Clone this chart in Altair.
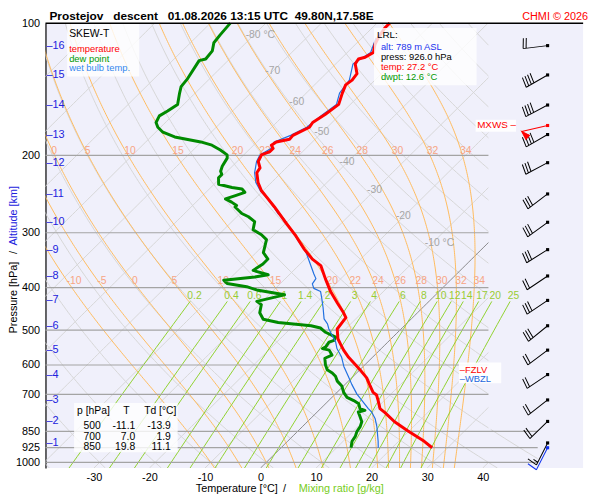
import numpy as np
import pandas as pd
import altair as alt

alt.data_transformers.disable_max_rows()
FONT = "Liberation Sans"

# ---------------- sounding values (hPa, degC) ----------------
TEMP = [(926, 27.2), (895.1, 24.6), (847.9, 19.8), (807.9, 15.7), (770.0, 12.3), (754.5, 10.7),
        (723.2, 8.9), (702.4, 7.6), (692.8, 6.5), (669.9, 4.8), (641.9, 2.7), (615.0, 0.0),
        (599.5, -1.7), (576.3, -4.3), (555.1, -6.5), (538.4, -8.1), (523.0, -9.6), (496.9, -11.5),
        (480.4, -11.8), (468.2, -12.0), (456.4, -13.3), (433.6, -16.2), (408.4, -19.5), (381.6, -22.8),
        (356.3, -26.0), (344.4, -28.7), (327.3, -31.9), (305.5, -35.8), (285.5, -39.9), (262.1, -45.0),
        (248.9, -48.2), (240.7, -50.3), (230.6, -52.4), (219.1, -54.4), (213.6, -54.7), (206.5, -56.2),
        (199.5, -56.8), (196.2, -55.9), (192.8, -55.9), (189.6, -56.8), (186.4, -56.5), (183.8, -54.6),
        (180.1, -54.7), (172.6, -53.2), (168.3, -53.5), (161.2, -52.7), (157.1, -52.4), (153.1, -52.1),
        (144.3, -53.5), (138.2, -54.4), (134.8, -54.1), (130.3, -54.4), (123.8, -56.5), (120.7, -56.8),
        (119.6, -55.9), (116.6, -55.3), (111.7, -56.5), (108.0, -57.1), (102.6, -57.7), (100.0, -57.7)]

DEWP = [(926, 12.6), (895.1, 11.6), (872.4, 11.3), (850.3, 10.7), (828.8, 10.4), (807.9, 9.8),
        (787.4, 8.6), (767.7, 7.4), (761.3, 8.3), (754.5, 7.1), (735.6, 6.0), (723.2, 4.5),
        (710.9, 2.7), (692.8, 1.2), (669.9, -0.3), (653.0, -2.0), (636.7, -3.2), (625.5, -4.4),
        (615.0, -5.9), (599.5, -7.1), (579.3, -8.4), (569.6, -7.7), (555.1, -9.1), (550.4, -10.6),
        (545.9, -10.3), (532.1, -10.6), (527.4, -10.0), (518.6, -10.3), (505.5, -13.0), (494.3, -14.7),
        (488.5, -16.8), (480.4, -23.3), (472.1, -26.6), (456.4, -28.4), (437.2, -29.6), (429.9, -31.0),
        (415.4, -27.2), (404.9, -33.1), (398.1, -35.5), (391.5, -39.6), (384.7, -40.8), (378.3, -35.8),
        (373.9, -33.8), (365.5, -37.3), (353.4, -36.7), (344.4, -36.7), (332.9, -38.7), (321.7, -39.6),
        (311.0, -40.5), (303.1, -42.3), (295.4, -44.7), (283.0, -45.9), (275.9, -47.9), (271.2, -49.7),
        (262.1, -52.1), (260.0, -52.1), (255.5, -53.6), (251.2, -55.3), (246.9, -54.1), (242.7, -53.0),
        (238.6, -54.1), (236.6, -56.2), (232.6, -59.2), (224.8, -60.4), (221.0, -60.4), (217.3, -61.2),
        (211.8, -61.8), (202.9, -62.4), (199.5, -63.0), (194.5, -65.1), (189.6, -67.5), (186.4, -70.1),
        (181.6, -75.7), (177.1, -78.7), (172.6, -80.5), (168.3, -81.7), (162.6, -82.3), (158.5, -81.7),
        (153.1, -81.1), (144.3, -82.8), (139.5, -83.7), (133.7, -84.0), (121.7, -85.2), (120.7, -84.3),
        (115.6, -84.6), (110.8, -85.8), (106.2, -86.1), (100.0, -86.4)]

WETB = [(926, 17.5), (895.1, 16.3), (828.8, 13.4), (794.3, 11.6), (767.7, 9.8), (754.5, 8.6),
        (723.2, 6.0), (699.0, 3.9), (664.2, 1.2), (636.7, -0.9), (604.5, -3.5), (574.5, -5.7),
        (550.4, -8.0), (532.1, -9.4), (514.3, -11.2), (496.9, -13.0), (483.5, -14.2), (471.3, -15.7),
        (444.6, -17.9), (422.7, -19.9), (408.4, -21.3), (401.6, -23.1), (392.1, -24.2), (381.6, -24.5),
        (372.5, -25.7), (356.3, -27.8), (332.9, -31.0), (311.0, -34.9), (290.4, -38.8), (278.3, -41.3),
        (271.2, -43.2), (257.7, -46.1), (246.9, -48.8), (240.7, -50.5), (230.6, -52.8), (219.1, -54.8),
        (206.5, -56.5), (199.5, -57.1), (192.8, -56.3), (186.4, -56.9), (180.1, -55.1), (172.6, -53.7),
        (161.2, -53.1), (153.1, -52.5), (144.3, -54.0), (134.8, -54.6), (123.8, -56.9), (116.6, -55.8),
        (108.0, -57.5)]

# altitude ticks (km ASL) and their pressures, winds at each km
ALT_KM = list(range(1, 17))
ALT_P = [902.9, 806.6, 720.7, 631.0, 555.1, 488.5, 427.7, 376.3, 327.8, 284.0, 244.8, 207.8,
         179.3, 153.6, 131.2, 112.5]
WIND_DIR = [207, 226, 232, 236, 233, 231, 236, 236, 238, 234, 233, 242, 240, 242, 240, 263]
WIND_KT = [15, 20, 20, 20, 20, 30, 30, 20, 30, 30, 30, 30, 40, 40, 40, 20]
SFC_P, SFC_DIR, SFC_KT = 926.0, 207, 10
MXWS_P, MXWS_DIR = 171.0, 257

TAB_P = ["500", "700", "850"]
TAB_T = ["-11.1", "7.0", "19.8"]
TAB_TD = ["-13.9", "1.9", "11.1"]

LRL_ALT, LRL_P, LRL_T, LRL_TD = 789, 926.0, 27.2, 12.6
FZLV_P, WBZL_P = 615.0, 645.0

ISOBARS = [200, 300, 400, 500, 600, 700, 850, 925, 1000]
X_TICKS = [-30, -20, -10, 0, 10, 20, 30, 40]
ISO_LBL_T = [-80, -70, -60, -50, -40, -30, -20, -10]
ISO_LBL_P = [106.6, 128.4, 151.3, 177.2, 207.3, 239.9, 275.4, 316.2]
ISO_LBL_TXT = ["-80 \u00b0C", "-70", "-60", "-50", "-40", "-30", "-20", "-10 \u00b0C"]
THW = [-10, -5, 0, 5, 10, 15, 20, 22, 24, 26, 28, 30, 32, 34]
MR_LBL = ["0.2", "0.4", "0.6", "1", "1.4", "2", "3", "4", "6", "8", "10", "12", "14", "17", "20", "25"]

TITLE = ("Prostejov\u00a0\u00a0\u00a0descent\u00a0\u00a0\u00a001.08.2026 13:15 UTC"
         "\u00a0\u00a049.80N,17.58E")

# ---------------- diagram geometry ----------------
K = 79.93          # skew (degC per decade of pressure)
PB, PT = 1030.0, 100.0
XL, XR = -38.72, 58.08
XB, XB2 = 41.03, 49.9
W, H = 545, 451
EPS = 0.62197


def sk(T, p):
    return np.asarray(T, float) + K * np.log10(PB / np.asarray(p, float))


def bound_main(p):
    return XB


def bound_low(p):
    return XB2 if p >= 850 else XB


def clip(Xa, Pa, bound):
    Xa = np.asarray(Xa, float)
    Pa = np.asarray(Pa, float)
    f = Xa - np.array([bound(v) for v in Pa])
    segs, cx, cp = [], [], []

    def cross(j0, j1):
        t = f[j0] / (f[j0] - f[j1])
        lp = np.log(Pa[j0]) + t * (np.log(Pa[j1]) - np.log(Pa[j0]))
        return float(Xa[j0] + t * (Xa[j1] - Xa[j0])), float(np.exp(lp))

    for j in range(len(Xa)):
        ins = f[j] <= 0
        prev = (f[j - 1] <= 0) if j > 0 else None
        if ins:
            if j > 0 and not prev:
                x0, p0 = cross(j - 1, j)
                cx.append(x0); cp.append(p0)
            cx.append(float(Xa[j])); cp.append(float(Pa[j]))
        elif j > 0 and prev:
            x0, p0 = cross(j - 1, j)
            cx.append(x0); cp.append(p0)
            segs.append((cx, cp)); cx, cp = [], []
    if len(cx) > 1:
        segs.append((cx, cp))
    return segs


def lines_df(seglist):
    rows = []
    for sid, (cx, cp) in enumerate(seglist):
        for i, (x, p) in enumerate(zip(cx, cp)):
            rows.append({"id": sid, "i": i, "X": x, "p": p})
    return pd.DataFrame(rows)


def es_hpa(tc):
    return 6.112 * np.exp(17.67 * tc / (tc + 243.5))


def theta_e_sat(Tk, p):
    e = es_hpa(Tk - 273.15)
    r = 1000 * EPS * e / (p - e)
    return Tk * (1000.0 / p) ** (0.2854 * (1 - 0.00028 * r)) * \
        np.exp((3.376 / Tk - 0.00254) * r * (1 + 0.00081 * r))


def moist_curve(tw, ps):
    target = theta_e_sat(tw + 273.15, 1000.0)
    L = np.log(0.4 * ps / 6.112)
    hi = 243.5 * L / (17.67 - L) + 273.15
    lo = np.full_like(ps, 150.0)
    for _ in range(60):
        mid = 0.5 * (lo + hi)
        up = theta_e_sat(mid, ps) > target
        hi = np.where(up, mid, hi)
        lo = np.where(up, lo, mid)
    return 0.5 * (lo + hi) - 273.15


P_LINE = np.geomspace(PB, PT, 150)
P_MOIST = np.geomspace(PB, PT, 220)
iso, zero, dry, moist, mr = [], [], [], [], []
for T in range(-120, 41, 10):
    segs = clip(sk(np.full_like(P_LINE, T), P_LINE), P_LINE, bound_main)
    (zero if T == 0 else iso).extend(segs)
for th in range(-40, 171, 10):
    Tt = (th + 273.15) * (P_LINE / 1000.0) ** 0.2857 - 273.15
    dry.extend(clip(sk(Tt, P_LINE), P_LINE, bound_low))

moist_lbl = []
for tw in THW:
    Tm = moist_curve(tw, P_MOIST)
    moist.extend(clip(sk(Tm, P_MOIST), P_MOIST, bound_main))
    for pl in (387.0, 195.0):
        if pl < 300 and tw < 0:
            continue
        xl = float(sk(moist_curve(tw, np.array([pl])), [pl])[0])
        moist_lbl.append({"X": xl, "p": pl, "t": str(tw)})

P_MR = np.geomspace(PB, 430, 30)
mr_lbl = []
for s in MR_LBL:
    w = float(s)
    for arr, store in ((P_MR, "line"), (np.array([417.0]), "lbl")):
        e = w * arr / (1000 * EPS + w)
        lt = np.log(e / 6.112)
        Td = 243.5 * lt / (17.67 - lt)
        if store == "line":
            mr.append((list(sk(Td, arr)), list(arr)))
        else:
            mr_lbl.append({"X": float(sk(Td, arr)[0]), "p": 417.0, "t": s})

# ---------------- encodings ----------------
xs = alt.Scale(domain=[XL, XR], nice=False, zero=False)
ys = alt.Scale(type="log", domain=[PT, PB], reverse=True, nice=False)
x_axis = alt.Axis(values=X_TICKS, labelExpr="datum.value + ''", tickSize=0, domain=False, grid=False,
                  title=None, labelFontSize=11, labelColor="black", labelPadding=4, labelFont=FONT,
                  labelFlush=False)
y_axis = alt.Axis(values=ISOBARS + [100], labelExpr="datum.value + ''", tickSize=0, domain=True,
                  domainColor="black", domainWidth=1.2, grid=False, title=None, labelFontSize=11,
                  labelColor="black", labelPadding=6, labelFont=FONT, labelFlush=False,
                  labelOverlap=False)


def X(field="X"):
    return alt.X(field, type="quantitative", scale=xs, axis=x_axis)


def Y(field="p"):
    return alt.Y(field, type="quantitative", scale=ys, axis=y_axis)


def grid_layer(segs, color, width=1.0):
    return alt.Chart(lines_df(segs)).mark_line(color=color, strokeWidth=width, clip=True).encode(
        x=X(), y=Y(), detail="id:N", order="i:Q")


def label_layer(rows, color, size, align="center", dx=0):
    return alt.Chart(pd.DataFrame(rows)).mark_text(color=color, fontSize=size, font=FONT, align=align,
                                                   dx=dx, baseline="middle", clip=True).encode(
        x=X(), y=Y(), text="t:N")


def profile(pairs, color, width):
    df = pd.DataFrame(pairs, columns=["p", "T"])
    df["i"] = range(len(df))
    return alt.Chart(df).transform_calculate(
        X=f"datum.T + {K}*log({PB}/datum.p)/LN10").mark_line(
        color=color, strokeWidth=width, strokeJoin="round").encode(x=X(), y=Y(), order="i:Q")


def txt(text, x, y, color="black", size=11, align="left", baseline="middle", weight="normal", angle=0):
    return alt.Chart(pd.DataFrame({"t": [text]})).mark_text(
        align=align, baseline=baseline, color=color, fontSize=size, font=FONT,
        fontWeight=weight, angle=angle).encode(x=alt.value(x), y=alt.value(y), text="t:N")


def box(x1, y1, x2, y2, opacity=0.8):
    return alt.Chart(pd.DataFrame({"a": [0]})).mark_rect(color="white", opacity=opacity).encode(
        x=alt.value(x1), x2=alt.value(x2), y=alt.value(y1), y2=alt.value(y2))


def barb_path(kt, L=25.0, step=3.0, blen=10.5, rel=98.0):
    a = np.deg2rad(rel)
    ux, uy = np.sin(a), -np.cos(a)
    d = [f"M0,0L0,{-L:.1f}"]
    s = L
    for _ in range(kt // 10):
        d.append(f"M0,{-s:.1f}L{blen * ux:.1f},{-s + blen * uy:.1f}")
        s -= step
    for _ in range((kt % 10) // 5):
        d.append(f"M0,{-s:.1f}L{0.5 * blen * ux:.1f},{-s + 0.5 * blen * uy:.1f}")
    return "".join(d)


BX = 509  # barb column (pixels inside plot)


def barbs(ps, dirs, paths, color, filled=False):
    df = pd.DataFrame({"p": ps, "dir": dirs, "path": paths})
    if filled:
        mk = alt.Chart(df).mark_point(filled=True, fill=color, stroke=color, strokeWidth=1, opacity=1)
    else:
        mk = alt.Chart(df).mark_point(filled=False, color=color, strokeWidth=1, opacity=1)
    line = mk.encode(x=alt.value(BX), y=Y(), shape=alt.Shape("path:N", scale=None),
                     angle=alt.Angle("dir:Q", scale=None), size=alt.value(4))
    dot = alt.Chart(df).mark_square(color=color, size=10, opacity=1).encode(x=alt.value(BX), y=Y())
    return [line, dot]


# ---------------- layers ----------------
iso_df = pd.DataFrame({"T": ISO_LBL_T, "p": ISO_LBL_P, "t": ISO_LBL_TXT})
iso_lbl = alt.Chart(iso_df).transform_calculate(
    X=f"datum.T + {K}*log({PB}/datum.p)/LN10").mark_text(
    color="#a6a6a6", fontSize=10.5, font=FONT, align="left", dx=-8, baseline="middle").encode(
    x=X(), y=Y(), text="t:N")

isob = pd.DataFrame({"p": ISOBARS, "x1": [XL] * len(ISOBARS),
                     "x2": [XB if v <= 700 else XB2 for v in ISOBARS]})
isobar_layer = alt.Chart(isob).mark_rule(color="#a4a4a4", strokeWidth=1.2).encode(
    x=X("x1"), x2=alt.X2("x2"), y=Y())

alt_df = pd.DataFrame({"p": ALT_P, "t": ["\u2013" + str(k) for k in ALT_KM]})
alt_lbl = alt.Chart(alt_df).mark_text(color="#2222dd", fontSize=11, font=FONT, align="left",
                                      baseline="middle").encode(x=alt.value(1), y=Y(), text="t:N")

lvl_df = pd.DataFrame({"p": [FZLV_P, WBZL_P], "t": ["\u2013FZLV", "\u2013WBZL"],
                       "c": ["red", "#2266dd"]})
lvl_lbl = alt.Chart(lvl_df).mark_text(fontSize=9.5, font=FONT, align="left", baseline="middle").encode(
    x=alt.value(420), y=Y(), text="t:N", color=alt.Color("c:N", scale=None))

mx_df = pd.DataFrame({"p": [MXWS_P], "t": ["MXWS \u2013"]})
mx_lbl = alt.Chart(mx_df).mark_text(fontSize=10, font=FONT, align="right", baseline="middle",
                                    color="red").encode(x=alt.value(477), y=Y(), text="t:N")

layers = [
    grid_layer(dry, "#d6d6d6", 1.0),
    grid_layer(iso, "#d6d6d6", 1.0),
    grid_layer(zero, "#707070", 0.8),
    grid_layer(moist, "#ffbb5c", 1.0),
    grid_layer(mr, "#8fd12e", 1.0),
    isobar_layer,
    label_layer(moist_lbl, "#f7a584", 10.5, align="left", dx=-1),
    label_layer(mr_lbl, "#99cc33", 10.5),
    iso_lbl,
    profile(DEWP, "#008a00", 3),
    profile(WETB, "#2270e0", 1.2),
    profile(TEMP, "#ff0000", 3),
    # boxes
    box(22, 0, 95, 54),
    box(333, 5, 437, 63),
    box(29, 385, 134, 435),
    box(419, 344, 462, 365, 0.9),
    box(436, 98, 477, 110, 0.9),
    # legend
    txt("SKEW-T", 24, 10.7, size=10.5),
    txt("temperature", 24, 26.5, "red", 9.5),
    txt("dew point", 24, 36, "#009900", 9.5),
    txt("wet bulb temp.", 24, 45.5, "#3388ee", 9.5),
    # LRL
    txt("LRL:", 336, 11.6, size=10),
    txt(f"alt: {LRL_ALT} m ASL", 340, 24.7, "#2233ee", 9.5),
    txt(f"press: {LRL_P:.1f} hPa", 340, 34.6, "black", 9.5),
    txt(f"temp: {LRL_T:.1f} \u00b0C", 340, 44.5, "red", 9.5),
    txt(f"dwpt: {LRL_TD:.1f} \u00b0C", 340, 54.4, "#009900", 9.5),
    # table
    txt("p [hPa]", 32, 393.6, size=10.5),
    txt("T", 82, 393.6, size=10.5, align="center"),
    txt("Td [\u00b0C]", 100, 393.6, size=10.5),
]
for k in range(len(TAB_P)):
    yy = 408.6 + 10.45 * k
    layers += [txt(TAB_P[k], 56, yy, size=10.5, align="right"),
               txt(TAB_T[k], 91, yy, size=10.5, align="right"),
               txt(TAB_TD[k], 127, yy, size=10.5, align="right")]

layers += [lvl_lbl, mx_lbl, alt_lbl]
layers += barbs(ALT_P, WIND_DIR, [barb_path(v) for v in WIND_KT], "black")
layers += barbs([SFC_P], [SFC_DIR], [barb_path(SFC_KT)], "#1133ee")
layers += barbs([MXWS_P], [MXWS_DIR], ["M0,0L0,-27M0,-27L-5.6,-20.1L-8.7,-24.6Z"], "red", filled=True)
layers += [
    alt.Chart(pd.DataFrame({"a": [0]})).mark_rule(color="black", strokeWidth=1.5).encode(
        x=alt.value(0), x2=alt.value(W), y=alt.value(0)),
    txt(TITLE, 4, -3, size=12, weight="bold", baseline="alphabetic"),
    txt("CHMI \u00a9 2026", 550, -3, "red", 11, align="right", baseline="alphabetic"),
    txt("Pressure [hPa]", -32, 314.5, angle=270),
    txt("/", -32, 232.4, angle=270, align="center"),
    txt("Altitude [km]", -32, 225.5, "#2222dd", angle=270),
    txt("Temperature [\u00b0C]", 152.3, 472.7),
    txt("/", 242.3, 472.7, align="center"),
    txt("Mixing ratio [g/kg]", 256.7, 472.7, "#77cc22"),
]

chart = alt.layer(*layers).properties(
    width=W, height=H,
    autosize=alt.AutoSizeParams(type="none"),
    padding={"left": 38, "top": 12, "right": 9, "bottom": 28},
).configure_view(fill="#f0f0fb", stroke=None)

chart.save("out.html", embed_options={"renderer": "svg", "actions": False})
